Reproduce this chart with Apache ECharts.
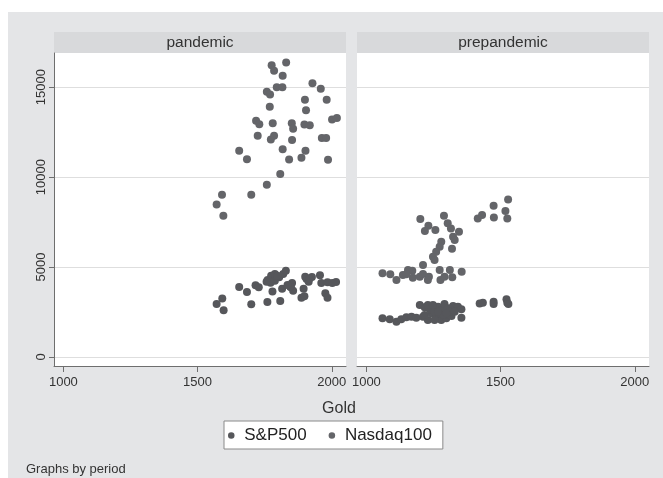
<!DOCTYPE html>
<html>
<head>
<meta charset="utf-8">
<script src="https://cdn.jsdelivr.net/npm/echarts@6/dist/echarts.min.js"></script>
<style>
html,body{margin:0;padding:0;background:#fff;}
#chart{width:663px;height:478px;}
</style>
</head>
<body>
<div id="chart"></div>
<script>
// ---- data (Gold, index value) ----
var panels = ['pandemic', 'prepandemic'];
var seriesNames = ['S&P500', 'Nasdaq100'];
var xTicks = [1000, 1500, 2000];
var yTicks = [0, 5000, 10000, 15000];

var pandemicNasdaq = [
  [1776,16220],[1785,15910],[1830,16370],[1817,15630],[1795,15000],[1816,15000],[1928,15220],
  [1959,14910],[1758,14740],[1770,14590],[1900,14300],[1981,14300],[1769,13910],[1904,13720],
  [1718,13130],[1730,12945],[1780,13000],[1851,13000],[1856,12685],[1898,12930],[1918,12890],
  [2001,13200],[2019,13280],[1724,12300],[1773,12095],[1785,12300],[1852,12070],[1963,12170],
  [1979,12170],[1817,11555],[1655,11460],[1684,11000],[1841,10980],[1887,11070],[1902,11460],
  [1986,10960],[1808,10170],[1758,9570],[1591,9020],[1700,9020],[1571,8480],[1596,7850]
];
var pandemicSP = [
  [1571,2950],[1592,3250],[1597,2600],[1655,3890],[1684,3615],[1700,2935],[1716,3985],
  [1728,3875],[1760,3060],[1779,3635],[1761,4280],[1774,4520],[1788,4610],[1804,4430],
  [1819,4610],[1829,4800],[1808,3120],[1815,3800],[1848,3875],[1852,4115],[1856,3690],
  [1887,3300],[1898,3375],[1895,3800],[1906,4335],[1914,4190],[1926,4445],[1956,4540],
  [1961,4115],[1976,3540],[1984,3300],[1984,4150],[2016,4170],[2002,4115],[1901,4465],
  [1788,4245],[1772,4130],[1845,3910],[1797,4520],[1757,4190],[1835,4005],[1917,4370]
];
var prepandemicNasdaq = [
  [1528,8760],[1474,8410],[1518,8110],[1475,7760],[1525,7700],[1415,7700],[1431,7890],
  [1201,7670],[1289,7850],[1231,7300],[1218,7000],[1257,7055],[1303,7430],[1315,7150],
  [1345,6960],[1323,6685],[1329,6500],[1279,6405],[1273,6130],[1319,6020],[1260,5850],
  [1248,5575],[1254,5390],[1211,5110],
  [1060,4650],[1089,4595],[1112,4280],[1136,4555],[1155,4835],[1171,4795],[1173,4405],
  [1199,4460],[1211,4610],[1233,4460],[1229,4280],[1273,4835],[1311,4835],[1276,4280],
  [1291,4460],[1320,4430],[1355,4740],[1149,4595]
];
var prepandemicSP = [
  [1422,2980],[1434,3020],[1474,3075],[1474,2945],[1522,3205],[1525,3020],[1529,2945],
  [1060,2150],[1087,2095],[1112,1960],[1130,2095],[1149,2205],[1168,2240],[1186,2185],
  [1211,2240],[1229,2055],[1217,2335],[1242,2430],[1260,2240],[1279,2055],[1298,2150],
  [1317,2280],[1354,2185],
  [1199,2890],[1217,2760],[1236,2650],[1254,2520],[1267,2795],[1279,2610],[1291,2945],
  [1304,2705],[1323,2835],[1341,2795],[1354,2650],[1311,2520],[1286,2335],[1298,2430],
  [1267,2520],[1229,2890],[1248,2890],[1329,2520],[1254,2055]
];

// ---- styling ----
var BG = '#e4e5e7', STRIP = '#d8d9db', TXT = '#333333', AXIS = '#6e6e6e', GRIDC = '#dedede';
var SP_COLOR = '#56575b', NQ_COLOR = '#646569';
var FONT = '"Liberation Sans", Arial, sans-serif';

var grids = [
  {left: 54, top: 53, width: 292, height: 313},
  {left: 357, top: 53, width: 292, height: 313}
];
function plain(v) { return String(v); }

function xAxisFor(i) {
  return {
    type: 'value', gridIndex: i, min: 965, max: 2053,
    axisLine: {show: true, onZero: false, lineStyle: {color: AXIS, width: 1}},
    axisTick: {show: true, length: 6, customValues: xTicks, lineStyle: {color: AXIS}},
    axisLabel: {customValues: xTicks, formatter: plain, color: TXT, fontSize: 13, fontFamily: FONT, margin: 10},
    splitLine: {show: false}
  };
}
function yAxisFor(i) {
  var first = i === 0;
  return {
    type: 'value', gridIndex: i, min: -500, max: 16900,
    axisLine: {show: first, lineStyle: {color: AXIS, width: 1}},
    axisTick: {show: first, length: 5, customValues: yTicks, lineStyle: {color: AXIS}},
    axisLabel: {show: first, customValues: yTicks, formatter: plain, rotate: 90, color: TXT, fontSize: 13, fontFamily: FONT, margin: 6},
    splitLine: {show: true, lineStyle: {color: GRIDC, width: 1.2}}
  };
}

var series = [];
[[pandemicSP, pandemicNasdaq], [prepandemicSP, prepandemicNasdaq]].forEach(function (pair, i) {
  series.push({
    name: seriesNames[0], type: 'scatter', xAxisIndex: i, yAxisIndex: i,
    data: pair[0], symbol: 'circle', symbolSize: 8,
    itemStyle: {color: SP_COLOR, opacity: 1}, silent: true
  });
  series.push({
    name: seriesNames[1], type: 'scatter', xAxisIndex: i, yAxisIndex: i,
    data: pair[1], symbol: 'circle', symbolSize: 8,
    itemStyle: {color: NQ_COLOR, opacity: 1}, silent: true
  });
});

var graphics = [
  {type: 'rect', shape: {x: 8, y: 12, width: 655, height: 466}, style: {fill: BG}, z: -10, silent: true}
];
panels.forEach(function (p, i) {
  var g = grids[i];
  graphics.push({type: 'rect', shape: {x: g.left, y: 32, width: g.width, height: 21}, style: {fill: STRIP}, z: -5, silent: true});
  graphics.push({type: 'text', x: g.left + g.width / 2, y: 43, style: {text: p, fill: TXT, font: '15.5px ' + FONT, textAlign: 'center', textVerticalAlign: 'middle'}, silent: true});
});
graphics.push({type: 'text', x: 339, y: 409, style: {text: 'Gold', fill: TXT, font: '16px ' + FONT, textAlign: 'center', textVerticalAlign: 'middle'}, silent: true});
graphics.push({type: 'text', x: 26, y: 469, style: {text: 'Graphs by period', fill: TXT, font: '13px ' + FONT, textAlign: 'left', textVerticalAlign: 'middle'}, silent: true});

var chart = echarts.init(document.getElementById('chart'), null, {renderer: 'canvas'});
chart.setOption({
  animation: false,
  backgroundColor: '#ffffff',
  grid: grids.map(function (g) { return Object.assign({show: true, backgroundColor: '#ffffff', borderWidth: 0}, g); }),
  xAxis: [xAxisFor(0), xAxisFor(1)],
  yAxis: [yAxisFor(0), yAxisFor(1)],
  legend: {
    data: [
      {name: seriesNames[0], itemStyle: {color: SP_COLOR}},
      {name: seriesNames[1], itemStyle: {color: NQ_COLOR}}
    ],
    left: 224, top: 421,
    orient: 'horizontal',
    icon: 'circle', itemWidth: 16, itemHeight: 6.5, itemGap: 22,
    padding: [6, 11, 5, 4],
    backgroundColor: '#ffffff', borderColor: '#8a8a8a', borderWidth: 1, borderRadius: 0,
    textStyle: {color: '#222', fontSize: 17, fontFamily: FONT},
    selectedMode: false
  },
  graphic: graphics,
  series: series
});
</script>
</body>
</html>
